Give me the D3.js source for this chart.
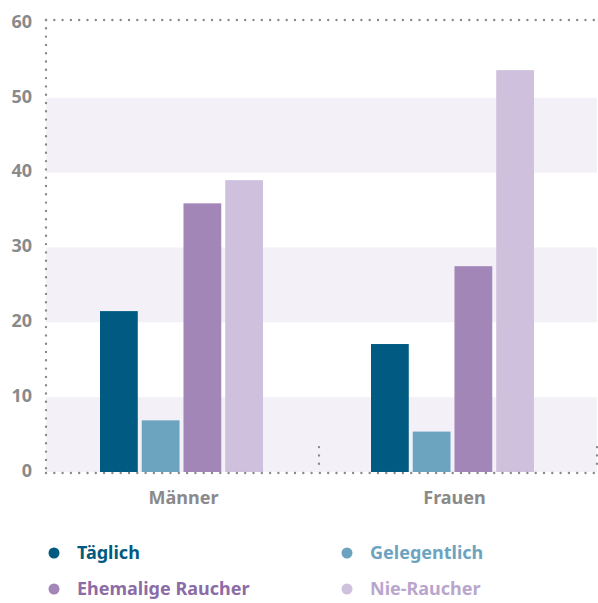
<!DOCTYPE html>
<html lang="de">
<head>
<meta charset="utf-8" />
<script src="https://cdn.jsdelivr.net/npm/d3@7"></script>
<style>
  body { margin: 0; background: #fff; }
  svg { font-family: "Noto Sans", "Open Sans", sans-serif; font-weight: 700; }
</style>
</head>
<body>
<svg id="chart" width="598" height="603"></svg>
<script>
var groups = ["Männer", "Frauen"];
var series = ["Täglich", "Gelegentlich", "Ehemalige Raucher", "Nie-Raucher"];
var maenner = [21.5, 6.9, 35.9, 39.0];
var frauen = [17.1, 5.4, 27.5, 53.7];
var yTicks = [0, 10, 20, 30, 40, 50, 60];
var barColors = ["#015a82", "#6ca3bf", "#a286b8", "#cfc0dd"];
var textColors = ["#015a82", "#6ca3bf", "#8c6ca6", "#b9a6cd"];

var values = { "Männer": maenner, "Frauen": frauen };

var svg = d3.select("#chart"),
    plotLeft = 46, plotRight = 597, plotTop = 20, plotBottom = 472;

var y = d3.scaleLinear().domain([0, 60]).range([plotBottom, plotTop + 3]);

var x0 = d3.scaleBand().domain(groups).range([plotLeft, 588]);
var x1 = d3.scaleBand().domain(series)
    .range([54, 217])
    .paddingInner(0.095);

// shaded bands
var bands = [[0, 10], [20, 30], [40, 50]];
svg.selectAll("rect.band")
    .data(bands)
  .enter().append("rect")
    .attr("class", "band")
    .attr("x", plotLeft)
    .attr("width", plotRight - plotLeft)
    .attr("y", function(d) { return y(d[1]); })
    .attr("height", function(d) { return y(d[0]) - y(d[1]); })
    .attr("fill", "#f3f0f8");

// bars
var g = svg.selectAll("g.group")
    .data(groups)
  .enter().append("g")
    .attr("class", "group")
    .attr("transform", function(d) { return "translate(" + x0(d) + ",0)"; });

g.selectAll("rect")
    .data(function(d) { return values[d].map(function(v, i) { return { key: series[i], value: v, i: i }; }); })
  .enter().append("rect")
    .attr("x", function(d) { return x1(d.key); })
    .attr("width", x1.bandwidth())
    .attr("y", function(d) { return y(d.value); })
    .attr("height", function(d) { return plotBottom - y(d.value); })
    .attr("fill", function(d) { return barColors[d.i]; });

// dotted axis lines
function dotted(sel) {
  return sel.attr("stroke", "#8a8a8a")
    .attr("stroke-width", 2.4)
    .attr("stroke-linecap", "round")
    .attr("stroke-dasharray", "0 8.3")
    .attr("fill", "none");
}
dotted(svg.append("line").attr("x1", plotLeft).attr("x2", plotRight).attr("y1", plotTop).attr("y2", plotTop));
dotted(svg.append("line").attr("x1", plotLeft).attr("x2", plotRight).attr("y1", plotBottom + 1).attr("y2", plotBottom + 1));
dotted(svg.append("line").attr("x1", plotLeft).attr("x2", plotLeft).attr("y1", plotTop).attr("y2", plotBottom));
dotted(svg.selectAll("line.div")
    .data([x0("Frauen") + 2, plotRight])
  .enter().append("line")
    .attr("class", "div")
    .attr("x1", function(d) { return d; })
    .attr("x2", function(d) { return d; })
    .attr("y1", plotBottom - 24.9)
    .attr("y2", plotBottom));

// y tick labels
svg.selectAll("text.ytick")
    .data(yTicks)
  .enter().append("text")
    .attr("class", "ytick")
    .attr("x", 32)
    .attr("y", function(d) { return y(d) - 1.5; })
    .attr("dy", "0.35em")
    .attr("text-anchor", "end")
    .attr("fill", "#8a8a8a")
    .attr("font-size", 18)
    .text(function(d) { return d; });

// group labels
svg.selectAll("text.xlab")
    .data(groups)
  .enter().append("text")
    .attr("class", "xlab")
    .attr("x", function(d) { return x0(d) + x0.bandwidth() / 2 + 2; })
    .attr("y", 498)
    .attr("dy", "0.35em")
    .attr("text-anchor", "middle")
    .attr("fill", "#8a8a8a")
    .attr("font-size", 18)
    .text(function(d) { return d; });

// legend
var legendX = [54, 347], legendY = [553, 589];
var leg = svg.selectAll("g.leg")
    .data(series)
  .enter().append("g")
    .attr("class", "leg")
    .attr("transform", function(d, i) { return "translate(" + legendX[i % 2] + "," + legendY[Math.floor(i / 2)] + ")"; });

leg.append("circle")
    .attr("r", 5.5)
    .attr("fill", function(d, i) { return barColors[i]; });

leg.append("text")
    .attr("x", 23)
    .attr("dy", "0.35em")
    .attr("font-size", 18)
    .attr("fill", function(d, i) { return textColors[i]; })
    .text(function(d) { return d; });
</script>
</body>
</html>
